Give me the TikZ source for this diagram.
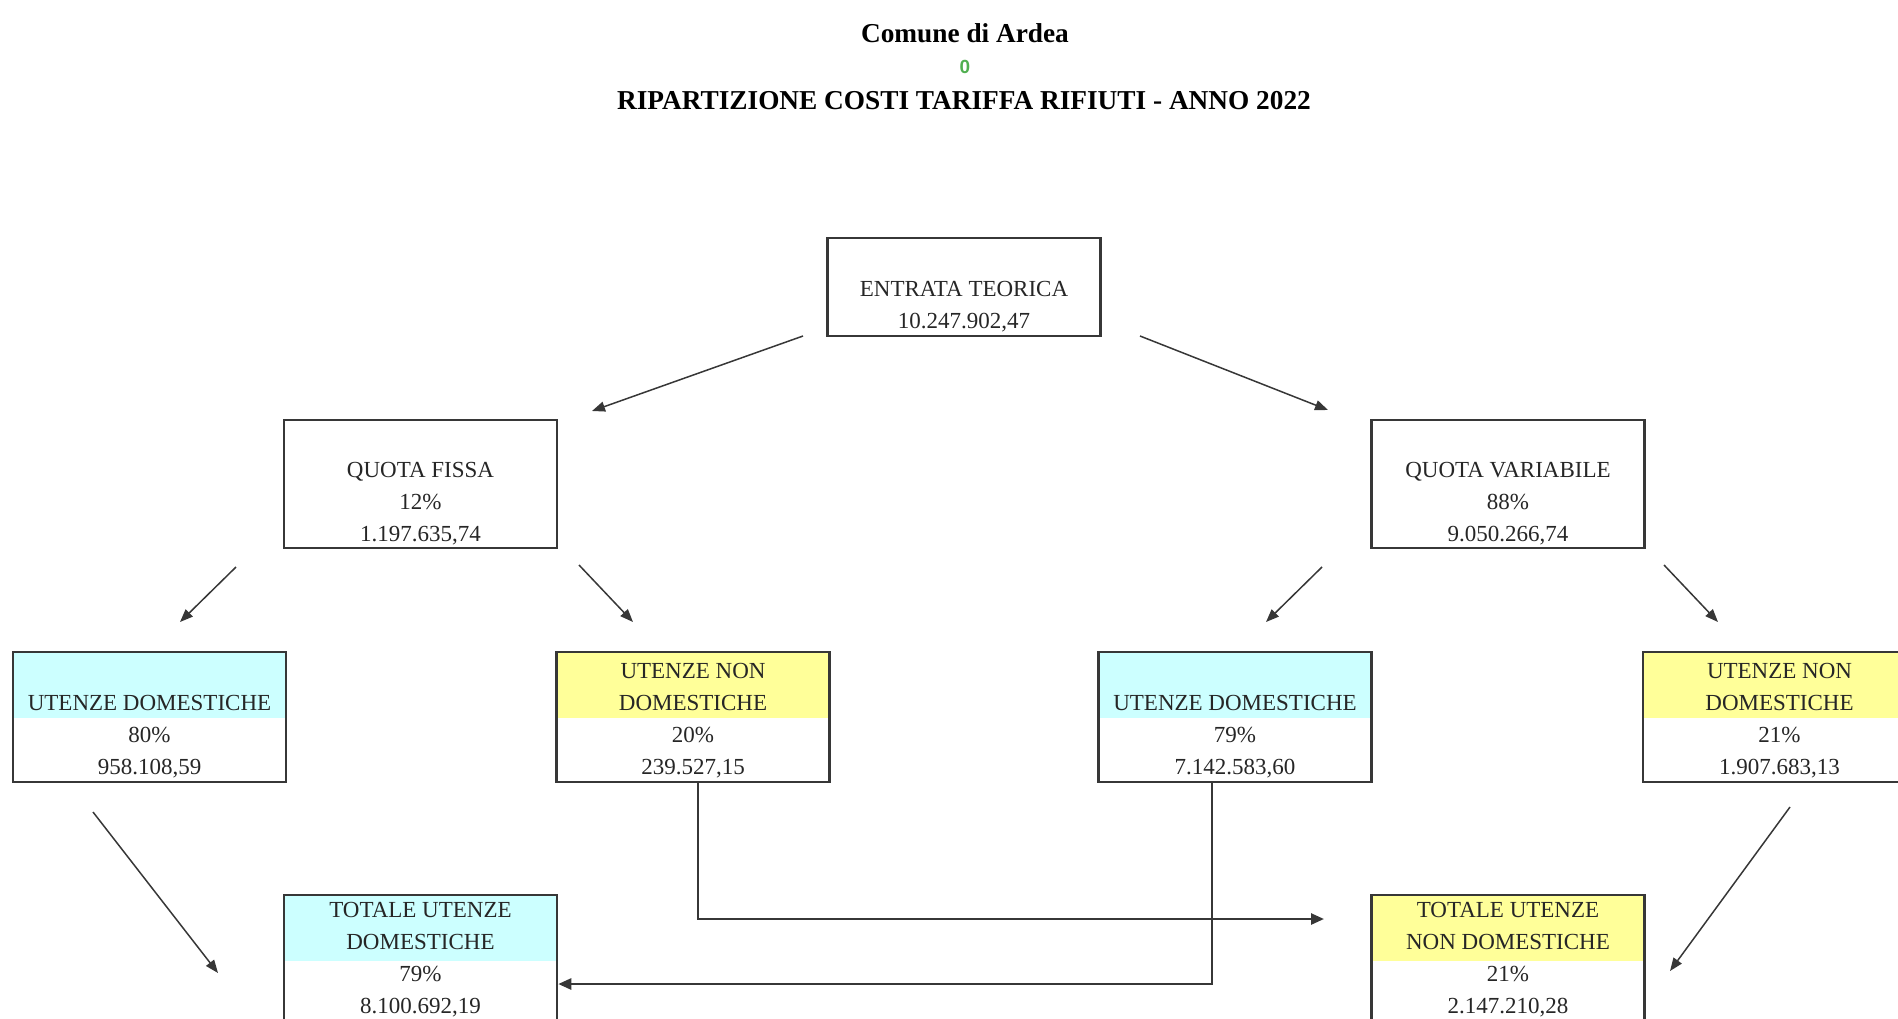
\documentclass[tikz,border=0pt]{standalone}
\usepackage{fontspec}
\setmainfont{Liberation Serif}
\newfontfamily\zerofont{Liberation Sans}
\usetikzlibrary{arrows.meta}

\definecolor{domcol}{RGB}{204,255,255}
\definecolor{ndomcol}{RGB}{255,255,153}
\definecolor{zerocol}{RGB}{80,175,80}
\definecolor{linecol}{RGB}{55,55,55}

\tikzset{
  box/.style={draw=linecol, line width=2.5pt, minimum width=273pt, minimum height=130pt,
    inner sep=0pt, align=center, text=black!85, font=\fontsize{23}{32}\selectfont},
  dom/.style={box, path picture={\fill[domcol] (path picture bounding box.north west)
    rectangle ([yshift=-66pt]path picture bounding box.north east);}},
  ndom/.style={box, path picture={\fill[ndomcol] (path picture bounding box.north west)
    rectangle ([yshift=-66pt]path picture bounding box.north east);}},
  arr/.style={draw=linecol, line width=1.5pt, -{Triangle[length=13pt,width=10pt]}},
  elbow/.style={draw=linecol, line width=2.5pt, -{Triangle[length=13pt,width=11pt]}}
}

\begin{document}
\begin{tikzpicture}[x=1pt, y=-1pt]
	\useasboundingbox (0,0) rectangle (1898,1018);

	% titles
	\node at (965, 33)  (t1) {\fontsize{27.3}{30}\selectfont\bfseries Comune di Ardea};
	\node at (965, 67)  (t0) {\zerofont\fontsize{19}{20}\selectfont\bfseries\color{zerocol}0};
	\node at (964, 101) (t2) {\fontsize{27.3}{30}\selectfont\bfseries RIPARTIZIONE COSTI TARIFFA RIFIUTI - ANNO 2022};

	\node[box, minimum height=98pt]  at (964, 287)   (et)  {\strut\\ENTRATA TEORICA\\10.247.902,47};

	\node[box, minimum height=128pt] at (420.5, 484)  (qf)  {\strut\\QUOTA FISSA\\12\%\\1.197.635,74};
	\node[box, minimum height=128pt] at (1508, 484)   (qv)  {\strut\\QUOTA VARIABILE\\88\%\\9.050.266,74};

	\node[dom]  at (149.5, 717)  (ud1)  {\strut\\UTENZE DOMESTICHE\\80\%\\958.108,59};
	\node[ndom] at (693, 717)    (und1) {\strut UTENZE NON\\DOMESTICHE\\20\%\\239.527,15};
	\node[dom]  at (1235, 717)   (ud2)  {\strut\\UTENZE DOMESTICHE\\79\%\\7.142.583,60};
	\node[ndom] at (1779.5, 717) (und2) {\strut UTENZE NON\\DOMESTICHE\\21\%\\1.907.683,13};

	\node[dom]  at (420.5, 960)  (tud)  {TOTALE UTENZE\\DOMESTICHE\\79\%\\8.100.692,19};
	\node[ndom] at (1508, 960)   (tund) {TOTALE UTENZE\\NON DOMESTICHE\\21\%\\2.147.210,28};

	% arrow ends
	\coordinate (a1) at (803, 336);  \coordinate (b1) at (592, 411);
	\coordinate (a2) at (1140, 336); \coordinate (b2) at (1328, 410);
	\coordinate (a3) at (236, 567);  \coordinate (b3) at (180, 622);
	\coordinate (a4) at (579, 565);  \coordinate (b4) at (633, 622);
	\coordinate (a5) at (1322, 567); \coordinate (b5) at (1266, 622);
	\coordinate (a6) at (1664, 565); \coordinate (b6) at (1718, 622);
	\coordinate (a7) at (93, 812);   \coordinate (b7) at (218, 973);
	\coordinate (a8) at (1790, 807); \coordinate (b8) at (1670, 971);
	\coordinate (e1) at (1324, 919);

	% draw arrows
	\draw[arr] (a1) -- (b1);
	\draw[arr] (a2) -- (b2);
	\draw[arr] (a3) -- (b3);
	\draw[arr] (a4) -- (b4);
	\draw[arr] (a5) -- (b5);
	\draw[arr] (a6) -- (b6);
	\draw[arr] (a7) -- (b7);
	\draw[arr] (a8) -- (b8);

	\draw[elbow] ([xshift=5pt]und1.south) |- (e1);
	\draw[elbow] ([xshift=-23pt]ud2.south) |- ([yshift=-24pt]tud.east);

\end{tikzpicture}
\end{document}
